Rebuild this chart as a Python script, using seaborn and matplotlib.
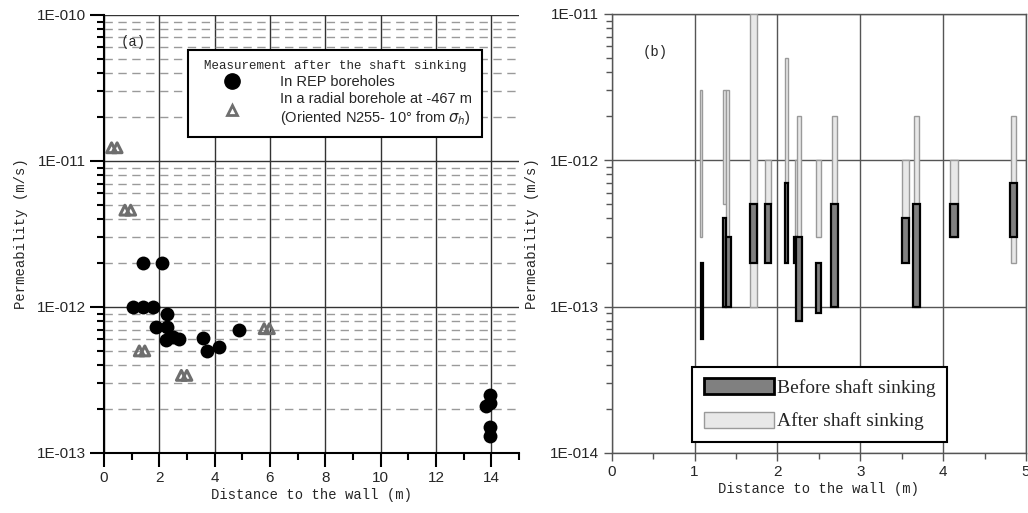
import numpy as np
import pandas as pd
import matplotlib
matplotlib.use("Agg")
import matplotlib.pyplot as plt
import matplotlib.ticker as mticker
from matplotlib.patches import Patch
from matplotlib.lines import Line2D
import seaborn as sns

# ---------------- Panel (a) data ----------------
rep_x = [1.4, 2.1, 1.07, 1.43, 1.77, 2.28, 1.89, 2.28, 2.24, 2.5, 2.73, 3.58, 3.72, 4.16, 4.88,
         13.79, 13.95, 13.95, 13.95, 13.95]
rep_k = [2e-12, 2e-12, 1e-12, 1e-12, 1e-12, 9e-13, 7.3e-13, 7.3e-13, 5.9e-13, 6.2e-13, 6e-13,
         6.1e-13, 5e-13, 5.3e-13, 7e-13, 2.1e-13, 2.5e-13, 2.2e-13, 1.5e-13, 1.3e-13]
rad_x = [0.28, 0.48, 0.76, 0.97, 1.28, 1.48, 2.8, 3.0, 5.79, 5.98]
rad_k = [1.23e-11, 1.23e-11, 4.6e-12, 4.6e-12, 5e-13, 5e-13, 3.4e-13, 3.4e-13, 7.1e-13, 7.1e-13]

# ---------------- Panel (b) data ----------------
after_x = [1.08, 1.36, 1.40, 1.71, 1.89, 2.11, 2.23, 2.26, 2.50, 2.69, 3.55, 3.68, 4.13, 4.85]
after_lo = [3e-13, 5e-13, 3e-13, 1e-13, 5e-13, 7e-13, 3e-13, 3e-13, 3e-13, 2e-13, 3e-13, 1e-13, 3e-13, 2e-13]
after_hi = [3e-12, 3e-12, 3e-12, 1e-11, 1e-12, 5e-12, 1e-12, 2e-12, 1e-12, 2e-12, 1e-12, 2e-12, 1e-12, 2e-12]
after_w = [0.025, 0.03, 0.04, 0.085, 0.07, 0.025, 0.03, 0.05, 0.06, 0.07, 0.08, 0.07, 0.1, 0.07]

before_x = [1.09, 1.36, 1.41, 1.71, 1.89, 2.11, 2.22, 2.26, 2.50, 2.69, 3.55, 3.68, 4.13, 4.85]
before_lo = [6e-14, 1e-13, 1e-13, 2e-13, 2e-13, 2e-13, 2e-13, 8e-14, 9e-14, 1e-13, 2e-13, 1e-13, 3e-13, 3e-13]
before_hi = [2e-13, 4e-13, 3e-13, 5e-13, 5e-13, 7e-13, 3e-13, 3e-13, 2e-13, 5e-13, 4e-13, 5e-13, 5e-13, 7e-13]
before_w = [0.03, 0.04, 0.05, 0.085, 0.07, 0.03, 0.04, 0.07, 0.06, 0.08, 0.08, 0.08, 0.1, 0.08]

ticks_a = [1e-13, 1e-12, 1e-11, 1e-10]
ticks_b = [1e-14, 1e-13, 1e-12, 1e-11]

sns.set_theme(style="white")
plt.rcParams['font.family'] = ['Liberation Sans', 'DejaVu Sans']
mono = 'Liberation Mono'

fig = plt.figure(figsize=(10.28, 5.13), dpi=100)
axa = fig.add_axes([0.101, 0.117, 0.404, 0.854])
axb = fig.add_axes([0.595, 0.117, 0.403, 0.856])

def efmt(v, pos):
    if v <= 0:
        return ""
    e = int(round(-np.log10(v)))
    return f"1E-{e:03d}"

# ---------------- Panel (a) ----------------
df_rep = pd.DataFrame({"x": rep_x, "k": rep_k})
df_rad = pd.DataFrame({"x": rad_x, "k": rad_k})
axa.set_yscale('log')
sns.scatterplot(data=df_rep, x="x", y="k", ax=axa, color='black', s=100, marker='o',
                edgecolor='black', linewidth=0, zorder=5)
sns.scatterplot(data=df_rad, x="x", y="k", ax=axa, marker='^', s=50, facecolor='none',
                edgecolor='#6e6e6e', linewidth=2.2, zorder=5)
axa.set_xlim(0, 15)
axa.set_ylim(1e-13, 1e-10)
axa.yaxis.set_major_locator(mticker.FixedLocator(ticks_a))
axa.yaxis.set_minor_locator(mticker.LogLocator(base=10, subs=np.arange(2, 10), numticks=20))
axa.yaxis.set_major_formatter(mticker.FuncFormatter(efmt))
axa.yaxis.set_minor_formatter(mticker.NullFormatter())
axa.xaxis.set_major_locator(mticker.MultipleLocator(2))
axa.xaxis.set_minor_locator(mticker.MultipleLocator(1))
axa.grid(True, which='major', color='#333333', linewidth=1.0, linestyle='-')
axa.grid(True, which='minor', axis='y', color='#9a9a9a', linewidth=1.0, linestyle=(0, (6, 4)))
axa.set_axisbelow(True)
for s in ['top', 'right']:
    axa.spines[s].set_visible(False)
for s in ['left', 'bottom']:
    axa.spines[s].set_color('black')
    axa.spines[s].set_linewidth(1.5)
axa.tick_params(axis='both', which='major', direction='out', length=10, width=1.5, color='black',
                labelsize=11, left=True, bottom=True, pad=3)
axa.tick_params(axis='both', which='minor', direction='out', length=5, width=1.5, color='black',
                left=True, bottom=True)
axa.set_xlabel("Distance to the wall (m)", fontfamily=mono, fontsize=10, labelpad=2)
axa.set_ylabel("Permeability (m/s)", fontfamily=mono, fontsize=10, labelpad=6)
axa.text(0.04, 0.955, "(a)", transform=axa.transAxes, fontsize=10, fontfamily=mono, va='top')

h_rep = Line2D([], [], marker='o', color='black', linestyle='none', markersize=11)
h_rad = Line2D([], [], marker='^', markerfacecolor='none', markeredgecolor='#6e6e6e',
               markeredgewidth=2, linestyle='none', markersize=7)
leg = axa.legend([h_rep, h_rad],
                 ["In REP boreholes",
                  "In a radial borehole at -467 m\n(Oriented N255- 10° from $\\sigma_h$)"],
                 title="Measurement after the shaft sinking",
                 loc='upper left', bbox_to_anchor=(0.203, 0.92), frameon=True, fancybox=False,
                 edgecolor='black', fontsize=10.5, handlelength=4.6, handletextpad=1.0,
                 borderpad=0.7, labelspacing=0.2, framealpha=1, borderaxespad=0)
leg.get_frame().set_linewidth(1.5)
leg.get_title().set_fontfamily(mono)
leg.get_title().set_fontsize(9)

# ---------------- Panel (b) ----------------
axb.set_yscale('log')
axb.bar(after_x, np.array(after_hi) - np.array(after_lo), bottom=after_lo, width=after_w,
        color='#e8e8e8', edgecolor='#9a9a9a', linewidth=1.0, zorder=3)
axb.bar(before_x, np.array(before_hi) - np.array(before_lo), bottom=before_lo, width=before_w,
        color='#808080', edgecolor='black', linewidth=1.6, zorder=4)
axb.set_xlim(0, 5)
axb.set_ylim(1e-14, 1e-11)
axb.yaxis.set_major_locator(mticker.FixedLocator(ticks_b))
axb.yaxis.set_minor_locator(mticker.LogLocator(base=10, subs=np.arange(2, 10), numticks=20))
axb.yaxis.set_major_formatter(mticker.FuncFormatter(efmt))
axb.yaxis.set_minor_formatter(mticker.NullFormatter())
axb.xaxis.set_major_locator(mticker.MultipleLocator(1))
axb.xaxis.set_minor_locator(mticker.MultipleLocator(0.5))
axb.grid(True, which='major', color='#555555', linewidth=1.0, linestyle='-')
axb.set_axisbelow(True)
for s in axb.spines.values():
    s.set_color('#555555')
    s.set_linewidth(1.0)
axb.tick_params(axis='both', which='major', direction='out', length=6, width=1, color='#555555',
                labelsize=11, left=True, bottom=True, pad=3)
axb.tick_params(axis='both', which='minor', direction='out', length=4, width=1, color='#555555',
                left=True, bottom=True)
axb.set_xlabel("Distance to the wall (m)", fontfamily=mono, fontsize=10, labelpad=2)
axb.set_ylabel("Permeability (m/s)", fontfamily=mono, fontsize=10, labelpad=8)
axb.text(0.075, 0.93, "(b)", transform=axb.transAxes, fontsize=10, fontfamily=mono, va='top')

hb = Patch(facecolor='#808080', edgecolor='black', linewidth=2)
ha = Patch(facecolor='#e8e8e8', edgecolor='#9a9a9a', linewidth=1)
legb = axb.legend([hb, ha], ["Before shaft sinking", "After shaft sinking"],
                  loc='lower left', bbox_to_anchor=(0.195, 0.025), frameon=True, fancybox=False,
                  edgecolor='black', prop={'family': 'Liberation Serif', 'size': 14},
                  handlelength=3.6, handleheight=0.9, handletextpad=0.15, borderpad=0.6,
                  labelspacing=0.75, borderaxespad=0, framealpha=1)
legb.get_frame().set_linewidth(1.5)

fig.savefig("out.png", dpi=100)
